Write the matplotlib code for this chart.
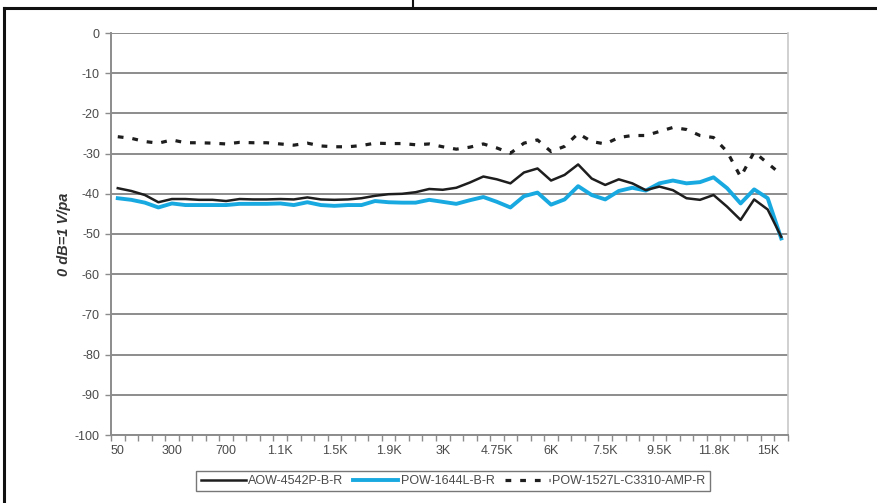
import matplotlib
matplotlib.use("Agg")
import matplotlib.pyplot as plt
from matplotlib.lines import Line2D
import numpy as np

plt.rcParams["font.family"] = ["Liberation Sans", "DejaVu Sans"]

freqs = ["50", "100", "150", "200", "300", "400", "500", "600", "700", "800",
         "900", "1K", "1.1K", "1.2K", "1.3K", "1.4K", "1.5K", "1.6K", "1.7K", "1.8K",
         "1.9K", "2K", "2.25K", "2.5K", "3K", "3.35K", "3.75K", "4.25K", "4.75K", "5K",
         "5.3K", "5.6K", "6K", "6.3K", "6.7K", "7.1K", "7.5K", "8K", "8.5K", "9K",
         "9.5K", "10K", "10.6K", "11.2K", "11.8K", "12.5K", "13.2K", "14K", "15K", "16K"]

aow_4542p = [-38.6, -39.3, -40.3, -42.1, -41.3, -41.3, -41.5, -41.5, -41.8, -41.3,
             -41.4, -41.4, -41.3, -41.4, -40.9, -41.4, -41.5, -41.4, -41.1, -40.5,
             -40.1, -40.0, -39.6, -38.8, -39.0, -38.5, -37.2, -35.7, -36.4, -37.4,
             -34.7, -33.7, -36.7, -35.3, -32.7, -36.2, -37.8, -36.4, -37.4, -39.1,
             -38.2, -39.1, -41.1, -41.5, -40.3, -43.2, -46.5, -41.4, -43.9, -50.7]

pow_1644l = [-41.1, -41.5, -42.2, -43.4, -42.4, -42.8, -42.8, -42.8, -42.8, -42.5,
             -42.5, -42.5, -42.4, -42.8, -42.1, -42.8, -43.0, -42.8, -42.8, -41.8,
             -42.1, -42.2, -42.2, -41.5, -42.0, -42.5, -41.6, -40.8, -42.0, -43.4,
             -40.6, -39.7, -42.7, -41.4, -38.1, -40.3, -41.4, -39.3, -38.5, -39.2,
             -37.4, -36.7, -37.4, -37.1, -35.9, -38.6, -42.4, -38.9, -41.1, -51.1]

pow_1527l = [-25.8, -26.2, -27.0, -27.4, -26.6, -27.3, -27.3, -27.4, -27.6, -27.2,
             -27.3, -27.3, -27.6, -27.9, -27.4, -28.1, -28.3, -28.3, -28.0, -27.4,
             -27.5, -27.5, -27.8, -27.6, -28.3, -28.9, -28.4, -27.6, -28.6, -29.9,
             -27.4, -26.6, -29.5, -28.2, -25.0, -27.0, -27.6, -26.0, -25.5, -25.5,
             -24.5, -23.5, -24.0, -25.5, -26.0, -29.5, -35.8, -29.6, -32.4, -35.2]

series_names = ["AOW-4542P-B-R", "POW-1644L-B-R", "POW-1527L-C3310-AMP-R"]

W, H = 877, 503
fig = plt.figure(figsize=(W / 100, H / 100), dpi=100)
fig.patch.set_facecolor("white")

# outer frame lines
fig.add_artist(Line2D([4 / W, 4 / W], [0, 1 - 8 / H], color="#111111", lw=2.2, transform=fig.transFigure))
fig.add_artist(Line2D([4 / W, 1], [1 - 8 / H, 1 - 8 / H], color="#111111", lw=2.2, transform=fig.transFigure))
fig.add_artist(Line2D([413 / W, 413 / W], [1 - 8 / H, 1], color="#111111", lw=1.5, transform=fig.transFigure))

left, right, top, bottom = 111, 788, 33, 435
ax = fig.add_axes([left / W, 1 - bottom / H, (right - left) / W, (bottom - top) / H])
ax.set_facecolor("white")

x = np.arange(len(freqs))
ax.plot(x, aow_4542p, color="#1e1e1e", lw=1.8, label=series_names[0], zorder=4)
ax.plot(x, pow_1644l, color="#19a9e1", lw=2.8, label=series_names[1], zorder=3)
ax.plot(x, pow_1527l, color="#1e1e1e", lw=2.3, linestyle=(0, (1.8, 2.8)),
        label=series_names[2], zorder=4)

ax.set_xlim(-0.5, len(freqs) - 0.5)
ax.set_ylim(-100, 0)
yt = np.arange(-100, 1, 10)
ax.set_yticks(yt)
ax.set_yticklabels([str(v) for v in yt])
for v in yt:
    ax.axhline(v, color="#8c8c8c", lw=1.4, zorder=1)

ax.set_xticks(x[::4])
ax.set_xticklabels([freqs[i] for i in x[::4]])
ax.set_xticks(np.arange(-0.5, len(freqs), 1), minor=True)
ax.tick_params(axis="x", which="major", length=0, pad=7, labelsize=9, labelcolor="#4a4a4a")
ax.tick_params(axis="x", which="minor", length=4, width=1, color="#8c8c8c", direction="out")
ax.tick_params(axis="y", length=4, width=1, color="#8c8c8c", labelsize=9, labelcolor="#4a4a4a", pad=4)

for s in ["left", "bottom"]:
    ax.spines[s].set_color("#8c8c8c")
    ax.spines[s].set_linewidth(1.4)
ax.spines["right"].set_color("#c8c8c8")
ax.spines["right"].set_linewidth(1.2)
ax.spines["top"].set_visible(False)

ax.set_ylabel("0 dB=1 V/pa", fontsize=10.5, style="italic", fontweight="bold", color="#333333", labelpad=3)

leg = fig.legend(loc="center", bbox_to_anchor=(453 / W, 1 - 481 / H), ncol=3, frameon=True,
                 fancybox=False, fontsize=9, handlelength=3.6, handletextpad=0.2,
                 columnspacing=0.8, borderpad=0.35)
leg.get_frame().set_edgecolor("#555555")
leg.get_frame().set_linewidth(1.0)
for t in leg.get_texts():
    t.set_color("#4a4a4a")

fig.savefig("out.png", dpi=100)
